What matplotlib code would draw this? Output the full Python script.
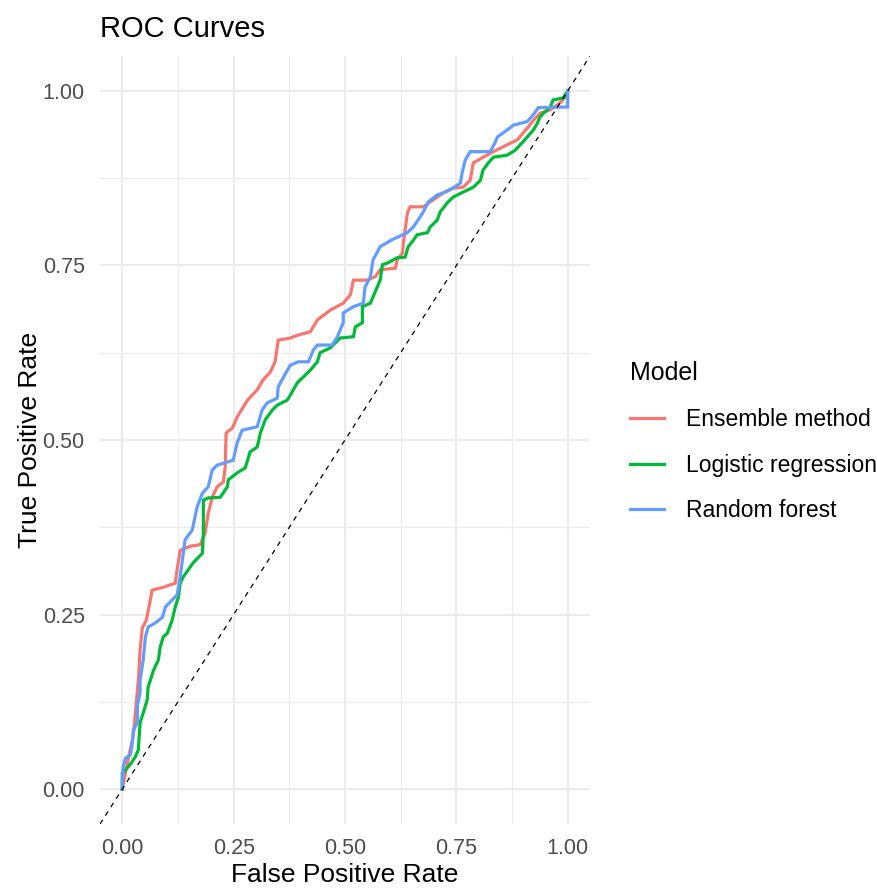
import matplotlib
matplotlib.use("Agg")
import matplotlib.pyplot as plt
from matplotlib.lines import Line2D
import numpy as np

plt.rcParams['font.family'] = ['Liberation Sans', 'DejaVu Sans']

models = ["Ensemble method", "Logistic regression", "Random forest"]
colors = ["#F8766D", "#00BA38", "#619CFF"]

ens_fpr = [0, 0.013, 0.025, 0.031, 0.036, 0.040, 0.045, 0.054, 0.063, 0.067, 0.092, 0.119, 0.123, 0.130,
           0.153, 0.175, 0.186, 0.193, 0.202, 0.213, 0.227, 0.231, 0.233, 0.247, 0.258, 0.281, 0.303, 0.316,
           0.332, 0.343, 0.350, 0.377, 0.393, 0.422, 0.438, 0.467, 0.496, 0.512, 0.519, 0.550, 0.568, 0.579,
           0.613, 0.617, 0.629, 0.631, 0.640, 0.646, 0.676, 0.691, 0.721, 0.743, 0.765, 0.781, 0.788, 0.810,
           0.833, 0.855, 0.887, 0.900, 0.911, 0.923, 0.938, 0.961, 0.983, 0.997, 1.0]
ens_tpr = [0, 0.042, 0.077, 0.120, 0.156, 0.199, 0.231, 0.242, 0.271, 0.285, 0.289, 0.295, 0.314, 0.342,
           0.348, 0.350, 0.367, 0.395, 0.418, 0.433, 0.440, 0.461, 0.510, 0.517, 0.533, 0.557, 0.572, 0.586,
           0.597, 0.612, 0.643, 0.646, 0.650, 0.655, 0.672, 0.686, 0.696, 0.708, 0.729, 0.729, 0.734, 0.744,
           0.746, 0.758, 0.768, 0.782, 0.825, 0.834, 0.834, 0.841, 0.854, 0.861, 0.862, 0.872, 0.897, 0.905,
           0.913, 0.920, 0.930, 0.940, 0.948, 0.958, 0.968, 0.973, 0.983, 0.993, 1.0]

log_fpr = [0, 0, 0, 0.011, 0.022, 0.029, 0.036, 0.040, 0.047, 0.056, 0.058, 0.070, 0.081, 0.085, 0.092,
           0.101, 0.112, 0.119, 0.126, 0.130, 0.137, 0.159, 0.180, 0.182, 0.182, 0.193, 0.220, 0.236, 0.238,
           0.258, 0.276, 0.287, 0.303, 0.310, 0.321, 0.337, 0.348, 0.370, 0.377, 0.393, 0.406, 0.422, 0.438,
           0.444, 0.467, 0.489, 0.519, 0.523, 0.539, 0.539, 0.557, 0.563, 0.579, 0.584, 0.597, 0.617, 0.635,
           0.642, 0.651, 0.662, 0.685, 0.691, 0.707, 0.714, 0.730, 0.743, 0.765, 0.788, 0.804, 0.810, 0.822,
           0.833, 0.864, 0.882, 0.898, 0.909, 0.923, 0.932, 0.938, 0.949, 0.961, 0.967, 0.990, 1.0]
log_tpr = [0, 0.003, 0.023, 0.030, 0.039, 0.046, 0.056, 0.095, 0.109, 0.128, 0.146, 0.170, 0.185, 0.203, 0.218,
           0.223, 0.242, 0.261, 0.275, 0.295, 0.304, 0.324, 0.338, 0.367, 0.414, 0.417, 0.418, 0.433, 0.443,
           0.453, 0.460, 0.483, 0.490, 0.510, 0.529, 0.543, 0.550, 0.557, 0.564, 0.582, 0.590, 0.600, 0.612,
           0.625, 0.632, 0.646, 0.648, 0.662, 0.668, 0.691, 0.696, 0.705, 0.729, 0.751, 0.754, 0.761, 0.762,
           0.777, 0.784, 0.794, 0.797, 0.805, 0.815, 0.827, 0.840, 0.848, 0.855, 0.862, 0.872, 0.887, 0.897,
           0.905, 0.908, 0.915, 0.926, 0.934, 0.944, 0.954, 0.963, 0.970, 0.977, 0.987, 0.990, 1.0]

rf_fpr = [0, 0, 0.002, 0.007, 0.018, 0.022, 0.025, 0.034, 0.034, 0.040, 0.040, 0.047, 0.052, 0.058, 0.074,
          0.090, 0.097, 0.112, 0.123, 0.130, 0.141, 0.157, 0.168, 0.180, 0.193, 0.202, 0.213, 0.249, 0.258,
          0.269, 0.303, 0.314, 0.325, 0.348, 0.350, 0.361, 0.377, 0.395, 0.418, 0.429, 0.438, 0.471, 0.483,
          0.496, 0.496, 0.519, 0.541, 0.545, 0.557, 0.563, 0.579, 0.606, 0.640, 0.653, 0.664, 0.676, 0.687,
          0.707, 0.725, 0.743, 0.759, 0.763, 0.770, 0.781, 0.826, 0.837, 0.842, 0.864, 0.878, 0.909, 0.923,
          0.934, 1.0, 1.0]
rf_tpr = [0, 0.009, 0.032, 0.044, 0.049, 0.063, 0.085, 0.095, 0.120, 0.138, 0.156, 0.185, 0.218, 0.232, 0.238,
          0.246, 0.261, 0.271, 0.278, 0.304, 0.357, 0.371, 0.404, 0.424, 0.433, 0.457, 0.464, 0.471, 0.496,
          0.514, 0.519, 0.543, 0.553, 0.560, 0.576, 0.589, 0.607, 0.612, 0.612, 0.629, 0.636, 0.636, 0.648,
          0.668, 0.682, 0.691, 0.696, 0.719, 0.734, 0.758, 0.777, 0.787, 0.797, 0.805, 0.815, 0.827, 0.841,
          0.851, 0.855, 0.861, 0.868, 0.883, 0.901, 0.913, 0.913, 0.926, 0.934, 0.944, 0.951, 0.956, 0.966,
          0.976, 0.977, 1.0]

ticks = [0.0, 0.25, 0.5, 0.75, 1.0]
tick_labels = ["0.00", "0.25", "0.50", "0.75", "1.00"]
minor_ticks = [0.125, 0.375, 0.625, 0.875]

W, H = 878, 888
fig = plt.figure(figsize=(W / 100, H / 100), dpi=100)
ax = fig.add_axes([100 / W, (H - 824) / H, 490 / W, 768 / H])

for fpr, tpr, c, m in zip([ens_fpr, log_fpr, rf_fpr], [ens_tpr, log_tpr, rf_tpr], colors, models):
    ax.plot(fpr, tpr, color=c, lw=2.3, label=m, solid_joinstyle='miter', zorder=3)

ax.axline((0, 0), (1, 1), color="black", lw=0.9, ls=(0, (4, 4)), zorder=4)

ax.set_xlim(-0.05, 1.05)
ax.set_ylim(-0.05, 1.05)
ax.set_xticks(ticks)
ax.set_xticklabels(tick_labels)
ax.set_yticks(ticks)
ax.set_yticklabels(tick_labels)
ax.set_xticks(minor_ticks, minor=True)
ax.set_yticks(minor_ticks, minor=True)
ax.grid(True, which='major', color='#EBEBEB', lw=1.4, zorder=0)
ax.grid(True, which='minor', color='#EBEBEB', lw=0.8, zorder=0)
for s in ax.spines.values():
    s.set_visible(False)
ax.tick_params(which='both', length=0)
ax.tick_params(axis='both', labelsize=15.5, labelcolor='#4D4D4D')
ax.tick_params(axis='y', pad=11)
ax.tick_params(axis='x', pad=10)
ax.set_axisbelow(True)

ax.set_xlabel("False Positive Rate", fontsize=19)
ax.set_ylabel("True Positive Rate", fontsize=19)
ax.xaxis.set_label_coords(0.5, -(875 - 824) / 768, transform=ax.transAxes)
ax.yaxis.set_label_coords(-(100 - 30) / 490, 0.5, transform=ax.transAxes)
ax.xaxis.label.set_va('center')
ax.yaxis.label.set_va('center')

ax.set_title("ROC Curves", loc='left', fontsize=21, pad=13.5)

handles = [Line2D([0], [0], color=c, lw=2.3) for c in colors]
leg = fig.legend(handles, models, title="Model", loc='upper left',
                 bbox_to_anchor=(623 / W, 1 - 354 / H), frameon=False,
                 fontsize=16.5, title_fontsize=18, handlelength=1.5,
                 handletextpad=0.95, labelspacing=0.97, alignment='left',
                 borderaxespad=0, borderpad=0.3)
leg._legend_box.sep = 17

fig.savefig("out.png", dpi=100)
